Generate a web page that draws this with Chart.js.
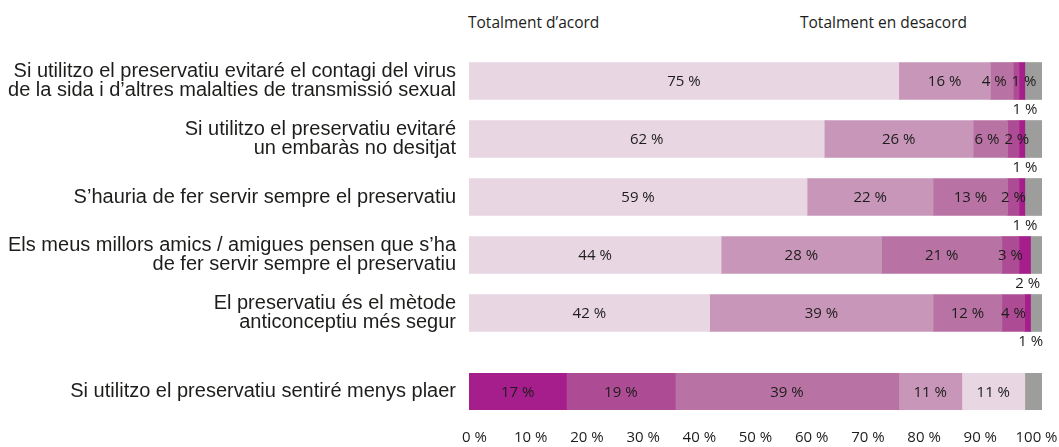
<!DOCTYPE html>
<html lang="ca">
<head>
<meta charset="utf-8">
<script src="https://cdn.jsdelivr.net/npm/chart.js@4"></script>
<style>
  html, body { margin: 0; padding: 0; background: #fff; }
  #wrap { position: relative; width: 1059px; height: 447px; overflow: hidden; }
  .cap { position: absolute; top: 11px; font: 15.5px "Open Sans", sans-serif; color: #1d1d1b; white-space: nowrap; }
  #top { position: absolute; left: 0; top: 0; }
  #bottom { position: absolute; left: 0; top: 355px; }
</style>
</head>
<body>
<div id="wrap">
  <span class="cap" style="left:468px">Totalment d’acord</span>
  <span class="cap" style="left:800px">Totalment en desacord</span>
  <canvas id="top" width="1059" height="355"></canvas>
  <canvas id="bottom" width="1059" height="92"></canvas>
</div>
<script>
// Enunciats (l'últim va separat i amb l'escala invertida)
const statements = [
  ['Si utilitzo el preservatiu evitaré el contagi del virus', 'de la sida i d’altres malalties de transmissió sexual'],
  ['Si utilitzo el preservatiu evitaré', 'un embaràs no desitjat'],
  'S’hauria de fer servir sempre el preservatiu',
  ['Els meus millors amics / amigues pensen que s’ha', 'de fer servir sempre el preservatiu'],
  ['El preservatiu és el mètode', 'anticonceptiu més segur'],
  'Si utilitzo el preservatiu sentiré menys plaer'
];

// Percentatges per tram, d'esquerra a dreta
const band1 = [75, 62, 59, 44, 42, 17];
const band2 = [16, 26, 22, 28, 39, 19];
const band3 = [4, 6, 13, 21, 12, 39];
const band4 = [1, 2, 2, 3, 4, 11];
const band5 = [1, 1, 1, 2, 1, 11];
const noAnswer = [3, 3, 3, 2, 2, 3];

const xTicks = [0, 10, 20, 30, 40, 50, 60, 70, 80, 90, 100];

const LIGHT = '#E8D6E2', LIGHT_MID = '#C796B9', MID = '#B873A4', MID_DARK = '#AD4C94', DARK = '#A61D8C', GREY = '#9D9D9C';
const topColours = [LIGHT, LIGHT_MID, MID, MID_DARK, DARK, GREY];
const bottomColours = [DARK, MID_DARK, MID, LIGHT_MID, LIGHT, GREY];

const INK = '#1d1d1b';
const LABEL_FONT = '15px "Open Sans", sans-serif';

function makeSets(from, to, colours) {
  return [band1, band2, band3, band4, band5, noAnswer].map((arr, i) => ({
    data: arr.slice(from, to),
    backgroundColor: colours[i],
    borderWidth: 0,
    barThickness: 37,
    noLabel: i === 5
  }));
}

// percentatges dins de cada tram; els trams foscos petits van a sota.
// Si dues etiquetes veïnes es trepitgen, se separen una mica.
const valueLabels = {
  id: 'valueLabels',
  afterDatasetsDraw(chart) {
    const ctx = chart.ctx;
    ctx.save();
    ctx.font = LABEL_FONT;
    ctx.fillStyle = INK;
    ctx.textAlign = 'center';
    ctx.textBaseline = 'middle';
    const rows = chart.data.labels.length;
    for (let j = 0; j < rows; j++) {
      const inside = [];
      chart.data.datasets.forEach((ds, i) => {
        if (ds.noLabel) return;
        const bar = chart.getDatasetMeta(i).data[j];
        const v = ds.data[j];
        const text = v + ' %';
        const x = (bar.x + bar.base) / 2;
        if (i === 4 && v <= 2) {
          ctx.fillText(text, x + 3, bar.y + bar.height / 2 + 10);
        } else {
          inside.push({ text, x, y: bar.y + 1, w: ctx.measureText(text).width });
        }
      });
      for (let k = 1; k < inside.length; k++) {
        const a = inside[k - 1], b = inside[k];
        const overlap = (a.x + a.w / 2 + 5) - (b.x - b.w / 2);
        if (overlap > 0) { a.x -= overlap / 2; b.x += overlap / 2; }
      }
      inside.forEach(l => ctx.fillText(l.text, l.x, l.y));
    }
    ctx.restore();
  }
};

const yAxis = {
  stacked: true,
  grid: { display: false, drawTicks: false },
  border: { display: false },
  ticks: {
    color: INK,
    padding: 13,
    font: { family: "'Liberation Sans', Arial, sans-serif", size: 20, lineHeight: 0.93 }
  },
  afterFit(s) { s.width = 469; s.paddingTop = 0; s.paddingBottom = 0; }
};

const barX = { display: false, stacked: true, min: 0, max: 100 };

new Chart(document.getElementById('top'), {
  type: 'bar',
  data: { labels: statements.slice(0, 5), datasets: makeSets(0, 5, topColours) },
  options: {
    indexAxis: 'y',
    responsive: false,
    animation: false,
    layout: { padding: { top: 52, bottom: 13, left: 0, right: 17 } },
    plugins: { legend: { display: false }, tooltip: { enabled: false } },
    scales: { x: barX, y: yAxis }
  },
  plugins: [valueLabels]
});

new Chart(document.getElementById('bottom'), {
  type: 'bar',
  data: { labels: statements.slice(5), datasets: makeSets(5, 6, bottomColours) },
  options: {
    indexAxis: 'y',
    responsive: false,
    animation: false,
    layout: { padding: { top: 18, bottom: 0, left: 0, right: 17 } },
    plugins: { legend: { display: false }, tooltip: { enabled: false } },
    scales: {
      x: barX,
      y: yAxis,
      // eix només per a les etiquetes de percentatge
      ticksX: {
        type: 'linear',
        position: 'bottom',
        min: -0.98,
        max: 100.98,
        grid: { display: false, drawTicks: false },
        border: { display: false },
        ticks: {
          color: INK,
          padding: 19,
          autoSkip: false,
          maxRotation: 0,
          font: { family: "'Open Sans', sans-serif", size: 15 },
          callback: v => v + ' %'
        },
        afterBuildTicks(s) { s.ticks = xTicks.map(v => ({ value: v })); },
        afterFit(s) { s.paddingLeft = 0; s.paddingRight = 0; }
      }
    }
  },
  plugins: [valueLabels]
});
</script>
</body>
</html>
